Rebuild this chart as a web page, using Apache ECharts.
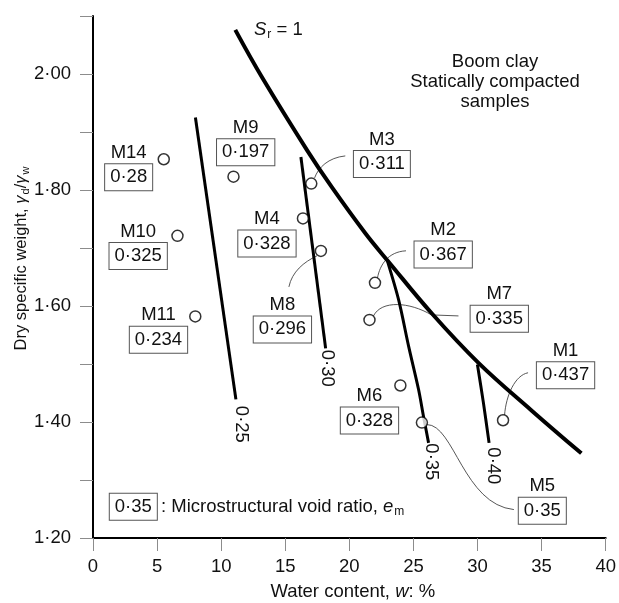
<!DOCTYPE html>
<html><head><meta charset="utf-8">
<script src="https://cdn.jsdelivr.net/npm/echarts@6.0.0/dist/echarts.min.js"></script>
<style>html,body{margin:0;padding:0;background:#fff}#c{width:619px;height:603px}</style>
</head><body><div id="c"></div>
<script>
// ---------- data ----------
const xTickLabels = ['0','5','10','15','20','25','30','35','40'];
const yTickLabels = ['1·20','1·40','1·60','1·80','2·00'];

const sampleNames      = ['M1','M2','M3','M4','M5','M6','M7','M8','M9','M10','M11','M14'];
const sampleWater      = [31.99, 22.0, 17.03, 16.38, 25.66, 23.98, 21.57, 17.78, 10.96, 6.59, 7.98, 5.52];
const sampleDryWeight  = [1.403, 1.640, 1.811, 1.751, 1.399, 1.463, 1.576, 1.695, 1.823, 1.721, 1.582, 1.853];
const sampleVoidRatio  = ['0·437','0·367','0·311','0·328','0·35','0·328','0·335','0·296','0·197','0·325','0·234','0·28'];

const srWater = [11.1, 13.22, 16.72, 18.66, 21.26, 23.07, 26.44, 30.07, 34.21, 38.1];
const srDry   = [2.076, 1.993, 1.868, 1.804, 1.725, 1.676, 1.587, 1.502, 1.420, 1.346];

const em025Water = [7.99, 11.15];
const em025Dry   = [1.925, 1.439];
const em030Water = [16.22, 18.15];
const em030Dry   = [1.857, 1.527];
const em035Water = [22.99, 23.85, 24.63, 25.40, 25.79, 26.18];
const em035Dry   = [1.676, 1.610, 1.530, 1.456, 1.409, 1.364];
const em040Water = [29.99, 30.46, 30.9];
const em040Dry   = [1.499, 1.433, 1.364];
const voidLineLabels = ['0·25','0·30','0·35','0·40'];

// ---------- layout (pixel offsets) ----------
const boxOffset = {
  M1:[62.5,-44.9], M2:[68.2,-28.2], M3:[70.6,-19.7], M4:[-36,25], M5:[120.4,88.1],
  M6:[-30.9,35.1], M7:[129.8,-1.2], M8:[-38.5,78.5], M9:[12.2,-24.5], M10:[-39.3,20.1],
  M11:[-36.8,23.3], M14:[-35.1,17.9]
};
const leaderPaths = {
  M3: [[3.3,-5.7],[7,-16],[17,-26],[34,-27.7]],
  M2: [[2.5,-5],[5,-18],[13,-31],[31,-32]],
  M8: [[-4,5],[-17,11],[-29,21],[-32,36]],
  M7: [[4,-4],[12,-20],[40,-18],[62,-5],[89,-4]],
  M1: [[1.5,-5],[3,-25],[12,-45],[25,-47.5]],
  M5: [[5,2],[32,2],[42,82],[92,87]]
};
const voidLabelOffset = [[5,25],[1.5,20],[2.5,19],[4.5,23]];

const FONT = '"Liberation Sans", Arial, Helvetica, sans-serif';
const FS = 18.5;
const TXT = '#111';
const zip = (a,b) => a.map((v,i)=>[v,b[i]]);

const chart = echarts.init(document.getElementById('c'));
const lineS = (data, w, sm) => ({type:'line', data, smooth:sm, symbol:'none', silent:true,
  lineStyle:{color:'#000', width:w}, z:3});

chart.setOption({
  animation:false,
  backgroundColor:'#fff',
  grid:{left:93, right:11, top:16, bottom:65},
  xAxis:{type:'value', min:0, max:40, interval:5,
    axisLine:{show:true, onZero:false, lineStyle:{color:'#000', width:2}},
    axisTick:{show:true, length:13, lineStyle:{color:'#8c8c8c', width:1}},
    axisLabel:{margin:19, fontSize:FS, color:TXT, fontFamily:FONT,
      formatter:(v)=>{const i=Math.round(v/5); return xTickLabels[i] ?? '';}},
    splitLine:{show:false}},
  yAxis:{type:'value', min:1.2, max:2.1, interval:0.1,
    axisLine:{show:true, onZero:false, lineStyle:{color:'#000', width:2}},
    axisTick:{show:true, length:13, lineStyle:{color:'#8c8c8c', width:1}},
    axisLabel:{margin:22, fontSize:FS, color:TXT, fontFamily:FONT,
      formatter:(v)=>{const k=Math.round(v*10); if(k%2) return ''; return yTickLabels[(k-12)/2] ?? '';}},
    splitLine:{show:false}},
  series:[
    lineS(zip(srWater, srDry), 4, 0.4),
    lineS(zip(em025Water, em025Dry), 3, false),
    lineS(zip(em030Water, em030Dry), 3, false),
    lineS(zip(em035Water, em035Dry), 3, 0.3),
    lineS(zip(em040Water, em040Dry), 3, 0.3),
    {type:'scatter', data: zip(sampleWater, sampleDryWeight), symbol:'circle', symbolSize:11,
      itemStyle:{color:'#fff', borderColor:'#000', borderWidth:1.5}, z:10, silent:true}
  ]
});

const px = (x,y) => chart.convertToPixel({gridIndex:0}, [x,y]);
const g = [];
const txt = (x,y,text,extra) => g.push(Object.assign({type:'text', x, y, silent:true, z:20,
  style:Object.assign({text, fill:TXT, font:FS+'px '+FONT, align:'center', verticalAlign:'middle'}, extra||{})}));
const leaderStyle = {fill:null, stroke:'#444', lineWidth:0.9};
const boxStyle = {padding:[4,5,3,5], borderColor:'#555', borderWidth:1, backgroundColor:'#fff'};

// sample labels + leaders
sampleNames.forEach((n,i)=>{
  const p = px(sampleWater[i], sampleDryWeight[i]);
  const o = boxOffset[n];
  const bx = p[0]+o[0], by = p[1]+o[1];
  txt(bx, by-24.5, n);
  txt(bx, by, sampleVoidRatio[i], boxStyle);
  const lp = leaderPaths[n];
  if (lp) {
    const q = lp.map(d=>[p[0]+d[0], p[1]+d[1]]);
    g.push({type:'bezierCurve', silent:true, z:1,
      shape:{x1:q[0][0], y1:q[0][1], cpx1:q[1][0], cpy1:q[1][1], cpx2:q[2][0], cpy2:q[2][1], x2:q[3][0], y2:q[3][1]},
      style:leaderStyle});
    if (q[4]) g.push({type:'line', silent:true, z:1,
      shape:{x1:q[3][0], y1:q[3][1], x2:q[4][0], y2:q[4][1]}, style:leaderStyle});
  }
});

// void ratio line labels
[[em025Water,em025Dry],[em030Water,em030Dry],[em035Water,em035Dry],[em040Water,em040Dry]].forEach((L,i)=>{
  const n = L[0].length-1;
  const p = px(L[0][n], L[1][n]);
  g.push({type:'text', x:p[0]+voidLabelOffset[i][0], y:p[1]+voidLabelOffset[i][1], rotation:-Math.PI/2, silent:true, z:20,
    style:{text:voidLineLabels[i], fill:TXT, font:FS+'px '+FONT, align:'center', verticalAlign:'middle'}});
});

const R = (size, extra) => Object.assign({fontSize:size, fontFamily:FONT, fill:TXT}, extra||{});

// Sr = 1
g.push({type:'text', x:254, y:30, silent:true, z:20, style:{
  text:'{i|S}{s|r}{a| = 1}', align:'left', verticalAlign:'middle', fill:TXT, font:FS+'px '+FONT,
  rich:{i:R(FS,{fontStyle:'italic'}), s:R(12,{padding:[10,0,0,1]}), a:R(FS)}}});

// Boom clay note
g.push({type:'text', x:495, y:81.7, silent:true, z:20, style:{
  text:'Boom clay\nStatically compacted\nsamples', align:'center', verticalAlign:'middle',
  fill:TXT, font:FS+'px '+FONT, lineHeight:20}});

// legend key
txt(133.3, 506.7, '0·35', boxStyle);
g.push({type:'text', x:161, y:506.7, silent:true, z:20, style:{
  text:'{a|: Microstructural void ratio, }{i|e}{s|m}', align:'left', verticalAlign:'middle', fill:TXT, font:FS+'px '+FONT,
  rich:{a:R(FS), i:R(FS,{fontStyle:'italic'}), s:R(12,{padding:[10,0,0,1]})}}});

// axis titles
g.push({type:'text', x:352.8, y:592, silent:true, z:20, style:{
  text:'{a|Water content, }{i|w}{a|: %}', align:'center', verticalAlign:'middle', fill:TXT, font:FS+'px '+FONT,
  rich:{a:R(FS), i:R(FS,{fontStyle:'italic'})}}});
g.push({type:'text', x:21, y:258.5, rotation:Math.PI/2, silent:true, z:20, style:{
  text:'{a|Dry specific weight, }{g|γ}{s|d}{a|/}{g|γ}{s|w}', align:'center', verticalAlign:'middle', fill:TXT, font:'16.5px '+FONT,
  rich:{a:R(16.5), g:R(16.5,{fontStyle:'italic'}), s:R(11,{padding:[9,0,0,1]})}}});

chart.setOption({graphic:{elements:g}});
</script></body></html>
